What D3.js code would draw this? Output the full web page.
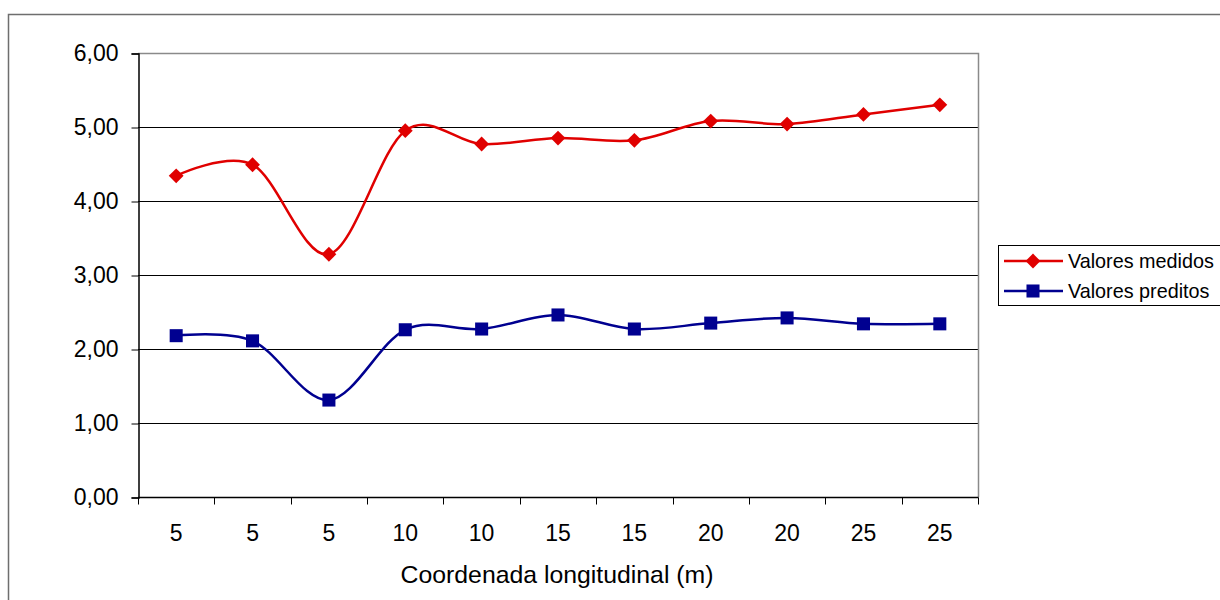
<!DOCTYPE html>
<html>
<head>
<meta charset="utf-8">
<script src="https://cdn.jsdelivr.net/npm/d3@7"></script>
<style>
  body { margin: 0; background: #fff; }
  text { font-family: "Liberation Sans", Arial, sans-serif; }
</style>
</head>
<body>
<svg id="mysvg" width="1220" height="600"></svg>
<script>
// data
var categories = ["5", "5", "5", "10", "10", "15", "15", "20", "20", "25", "25"];
var medidos  = [4.34, 4.49, 3.28, 4.95, 4.77, 4.85, 4.82, 5.08, 5.04, 5.17, 5.30];
var preditos = [2.18, 2.11, 1.31, 2.26, 2.27, 2.46, 2.27, 2.35, 2.42, 2.34, 2.34];
var yTicks = [0, 1, 2, 3, 4, 5, 6];
var seriesNames = ["Valores medidos", "Valores preditos"];

var svg = d3.select("#mysvg");

// outer chart frame (only left and top edges visible)
svg.append("rect")
	.attr("x", 8.5).attr("y", 14.5)
	.attr("width", 1240).attr("height", 620)
	.attr("fill", "#fff")
	.attr("stroke", "#6e6e6e")
	.attr("stroke-width", 1.5);

var plotL = 138, plotR = 978, plotT = 53, plotB = 497;

var idx = categories.map(function (d, i) { return i; });
var x = d3.scaleBand().domain(idx).range([plotL, plotR]).padding(0);
var y = d3.scaleLinear().domain([0, 6]).range([plotB, plotT]);

// gridlines
svg.append("g").selectAll("line")
	.data(yTicks.filter(function (d) { return d > 0 && d < 6; }))
	.enter().append("line")
	.attr("x1", plotL).attr("x2", plotR)
	.attr("y1", function (d) { return y(d) + 0.5; })
	.attr("y2", function (d) { return y(d) + 0.5; })
	.attr("stroke", "#000").attr("stroke-width", 1);

// plot-area border top/right (grey)
svg.append("path")
	.attr("d", "M" + plotL + "," + (plotT + 0.5) + "H" + (plotR + 0.5) + "V" + plotB)
	.attr("fill", "none").attr("stroke", "#8a8a8a").attr("stroke-width", 1.5);

// y axis
var yAxis = svg.append("g")
	.attr("transform", "translate(" + (plotL + 0.5) + ",0.5)")
	.call(d3.axisLeft(y).tickValues(yTicks).tickSize(7).tickPadding(13)
		.tickFormat(function (d) { return d3.format(".2f")(d).replace(".", ","); }));
yAxis.select(".domain").attr("stroke", "#000").attr("stroke-width", 1.5);
yAxis.selectAll(".tick line").attr("stroke", "#000");
yAxis.selectAll("text").attr("font-size", 23).attr("fill", "#000")
	.style("font-family", "Liberation Sans, Arial, sans-serif");

// x axis: ticks at band boundaries
var xg = svg.append("g").attr("transform", "translate(0," + (plotB + 0.5) + ")");
xg.append("line").attr("x1", plotL).attr("x2", plotR + 0.5)
	.attr("stroke", "#000").attr("stroke-width", 1.5);
var bounds = idx.concat([categories.length]);
xg.selectAll(".tk").data(bounds).enter().append("line")
	.attr("class", "tk")
	.attr("x1", function (d) { return Math.round(plotL + d * x.step()) + 0.5; })
	.attr("x2", function (d) { return Math.round(plotL + d * x.step()) + 0.5; })
	.attr("y1", 0).attr("y2", 7)
	.attr("stroke", "#000");
xg.selectAll("text").data(idx).enter().append("text")
	.attr("x", function (d) { return x(d) + x.bandwidth() / 2; })
	.attr("y", 43)
	.attr("text-anchor", "middle")
	.attr("font-size", 23)
	.text(function (d) { return categories[d]; });

svg.append("text")
	.attr("x", 557).attr("y", 583)
	.attr("text-anchor", "middle")
	.attr("font-size", 24.8)
	.text("Coordenada longitudinal (m)");

// lines
var line = d3.line()
	.x(function (d, i) { return x(i) + x.bandwidth() / 2; })
	.y(function (d) { return y(d); })
	.curve(d3.curveCardinal.tension(0));

var red = "#e00000", blue = "#000090";

svg.append("path").datum(medidos).attr("d", line)
	.attr("fill", "none").attr("stroke", red).attr("stroke-width", 2.5);
svg.append("path").datum(preditos).attr("d", line)
	.attr("fill", "none").attr("stroke", blue).attr("stroke-width", 2.5);

var diamond = d3.symbol().type(d3.symbolDiamond2).size(140);
var square = d3.symbol().type(d3.symbolSquare).size(170);

svg.append("g").selectAll("path").data(medidos).enter().append("path")
	.attr("d", diamond)
	.attr("transform", function (d, i) { return "translate(" + (x(i) + x.bandwidth() / 2) + "," + y(d) + ")"; })
	.attr("fill", red);
svg.append("g").selectAll("path").data(preditos).enter().append("path")
	.attr("d", square)
	.attr("transform", function (d, i) { return "translate(" + (x(i) + x.bandwidth() / 2) + "," + y(d) + ")"; })
	.attr("fill", blue);

// legend
var legend = svg.append("g");
legend.append("rect")
	.attr("x", 998.5).attr("y", 245.5).attr("width", 222).attr("height", 60)
	.attr("fill", "#fff").attr("stroke", "#000").attr("stroke-width", 1);

var rows = [
	{ name: seriesNames[0], color: red, sym: diamond, y: 261 },
	{ name: seriesNames[1], color: blue, sym: square, y: 291 }
];
rows.forEach(function (r) {
	legend.append("line").attr("x1", 1004).attr("x2", 1063)
		.attr("y1", r.y).attr("y2", r.y)
		.attr("stroke", r.color).attr("stroke-width", 2.5);
	legend.append("path").attr("d", r.sym)
		.attr("transform", "translate(1033," + r.y + ")")
		.attr("fill", r.color);
	legend.append("text").attr("x", 1068).attr("y", r.y + 7)
		.attr("font-size", 19.8).text(r.name);
});
</script>
</body>
</html>
